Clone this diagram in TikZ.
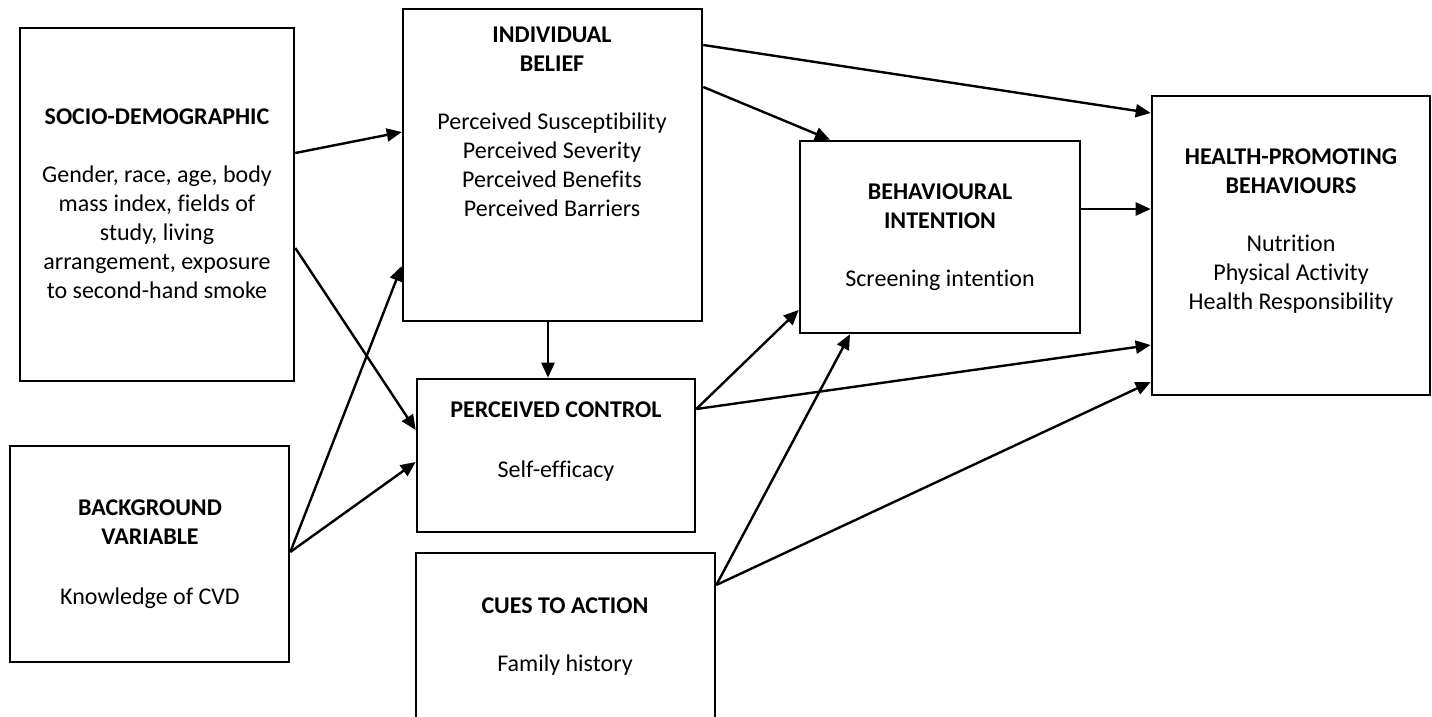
\documentclass[tikz,border=0pt]{standalone}
\usepackage{fontspec}
\setmainfont{Carlito}[Ligatures={NoCommon}]
\usetikzlibrary{arrows.meta}
\begin{document}
\begin{tikzpicture}[x=1pt,y=-1pt,
  box/.style={draw, line width=2.6pt, inner sep=0pt},
  txt/.style={align=center, inner sep=0pt, font=\fontsize{24}{29}\selectfont},
  arr/.style={line width=2.4pt, -{Triangle[length=15pt,width=13pt]}}]
\useasboundingbox (0,0) rectangle (1432,717);
\clip (0,0) rectangle (1432,717);
\fill[white] (0,0) rectangle (1432,717);
% boxes
\node[box, minimum width=274pt, minimum height=353pt] (socio) at (157,204.5) {};
\node[box, minimum width=299pt, minimum height=312pt] (indiv) at (552.5,165) {};
\node[box, minimum width=278pt, minimum height=153pt] (ctrl) at (556,455.5) {};
\node[box, minimum width=299pt, minimum height=207pt] (cues) at (565.5,656.5) {};
\node[box, minimum width=279pt, minimum height=216pt] (backg) at (149.5,554) {};
\node[box, minimum width=280pt, minimum height=192pt] (behav) at (940,237) {};
\node[box, minimum width=278pt, minimum height=299pt] (health) at (1291,245.5) {};
% texts
\node[txt] (socioT) at (157,204) {\textbf{SOCIO-DEMOGRAPHIC}\\[29pt]Gender, race, age, body\\mass index, fields of\\study, living\\arrangement, exposure\\to second-hand smoke};
\node[txt] (indivT) at (552,122) {\textbf{INDIVIDUAL}\\\textbf{BELIEF}\\[29pt]Perceived Susceptibility\\Perceived Severity\\Perceived Benefits\\Perceived Barriers};
\node[txt] (behavT) at (940,237.5) {\textbf{BEHAVIOURAL}\\\textbf{INTENTION}\\[29pt]Screening intention};
\node[txt] (healthT) at (1291,231.5) {\textbf{HEALTH-PROMOTING}\\\textbf{BEHAVIOURS}\\[29pt]Nutrition\\Physical Activity\\Health Responsibility};
\node[txt] (ctrlT) at (556,442) {\textbf{PERCEIVED CONTROL}\\[31pt]Self-efficacy};
\node[txt] (backgT) at (150,554.5) {\textbf{BACKGROUND}\\\textbf{VARIABLE}\\[31pt]Knowledge of CVD};
\node[txt] (cuesT) at (565,637) {\textbf{CUES TO ACTION}\\[29pt]Family history};
% arrows
\draw[arr] (socio.east |- 0,153) -- (indiv.west |- 0,132);
\draw[arr] (socio.east |- 0,248) -- (ctrl.west |- 0,430);
\draw[arr] (backg.east |- 0,552) -- (indiv.west |- 0,266);
\draw[arr] (backg.east |- 0,552) -- (ctrl.west |- 0,462);
\draw[arr] (indiv.south -| 548,0) -- (ctrl.north -| 548,0);
\draw[arr] (indiv.east |- 0,45) -- (health.west |- 0,113);
\draw[arr] (indiv.east |- 0,87) -- (behav.north -| 830,0);
\draw[arr] (ctrl.east |- 0,409) -- (behav.west |- 0,310);
\draw[arr] (ctrl.east |- 0,409) -- (health.west |- 0,345);
\draw[arr] (behav.east |- 0,209) -- (health.west |- 0,209);
\draw[arr] (cues.east |- 0,585) -- (behav.south -| 850,0);
\draw[arr] (cues.east |- 0,585) -- (health.west |- 0,382);
\end{tikzpicture}
\end{document}
